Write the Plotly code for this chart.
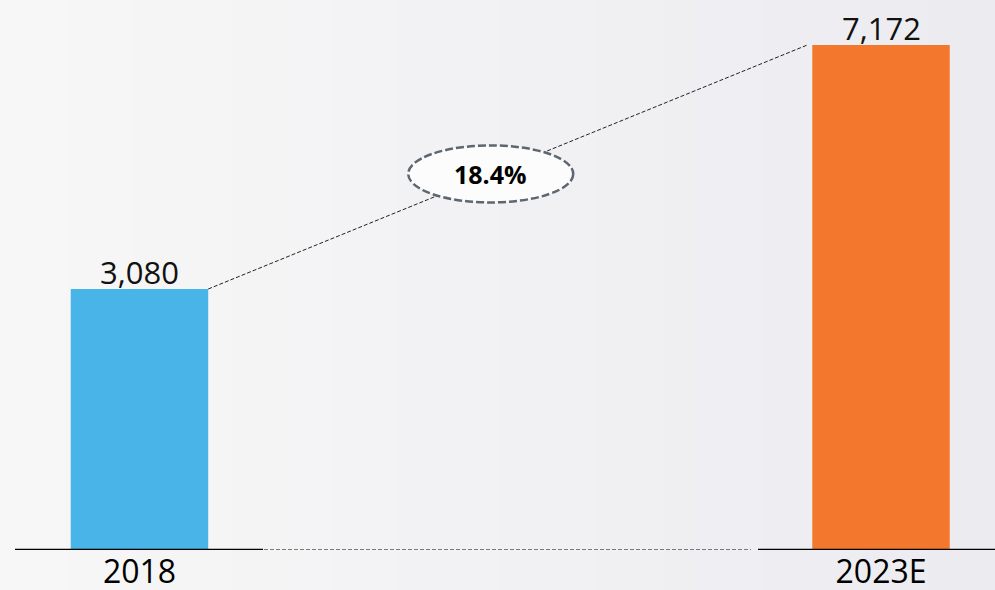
import plotly.graph_objects as go

# ---- data ----
categories = ["2018", "2023E"]
values = [3080, 7172]
value_labels = ["3,080", "7,172"]
cagr_label = "18.4%"
bar_colors = ["#49B4E8", "#F3782E"]

# ---- layout constants (styling / axis frame) ----
Y_FLOOR = -1297
Y_TOP = 7927
X_RANGE = [-0.1881, 1.1537]
BAR_W = 0.1854
FONT = "Open Sans"

fig = go.Figure()
fig.add_trace(go.Bar(
    x=list(range(len(categories))),
    y=[v - Y_FLOOR for v in values],
    base=[Y_FLOOR] * len(values),
    width=BAR_W,
    marker=dict(color=bar_colors, line=dict(width=0)),
    cliponaxis=False,
    hovertemplate="%{customdata}<extra></extra>",
    customdata=value_labels,
))

shapes = []
# background gradient strips
n = 30
c0 = (247, 247, 247)
c1 = (236, 235, 240)
for i in range(n):
    t = i / (n - 1)
    c = tuple(round(c0[j] + (c1[j] - c0[j]) * t) for j in range(3))
    shapes.append(dict(type="rect", xref="paper", yref="paper",
                       x0=i / n, x1=(i + 1) / n + 0.002, y0=-0.2, y1=1.05,
                       fillcolor="rgb(%d,%d,%d)" % c, line=dict(width=0), layer="below"))

# baseline segments
shapes.append(dict(type="line", xref="paper", yref="y", x0=15/995, x1=263/995,
                   y0=Y_FLOOR, y1=Y_FLOOR, line=dict(color="#000000", width=2.5)))
shapes.append(dict(type="line", xref="paper", yref="y", x0=264/995, x1=751/995,
                   y0=Y_FLOOR, y1=Y_FLOOR, line=dict(color="#7A7A7A", width=2, dash="4px,2px")))
shapes.append(dict(type="line", xref="paper", yref="y", x0=758/995, x1=1,
                   y0=Y_FLOOR, y1=Y_FLOOR, line=dict(color="#000000", width=2.5)))

# connector line from top of first bar to top of second bar
lx0 = 0 + BAR_W / 2
ly0 = values[0]
lx1 = 1 - BAR_W / 2 - 5 / 741.5
ly1 = values[1]
shapes.append(dict(type="line", xref="x", yref="y", x0=lx0, y0=ly0, x1=lx1, y1=ly1,
                   line=dict(color="#222222", width=1, dash="4px,2px")))

# ellipse with CAGR
t = 0.4716
cx = lx0 + (lx1 - lx0) * t
cy = ly0 + (ly1 - ly0) * t
rx = 82.5 / 741.5
ry = 28.5 / (550 / (Y_TOP - Y_FLOOR))
shapes.append(dict(type="circle", xref="x", yref="y", x0=cx - rx, x1=cx + rx,
                   y0=cy - ry, y1=cy + ry, fillcolor="rgba(252,252,252,1)",
                   line=dict(color="#5E6670", width=2.5, dash="8px,3px")))

annotations = [dict(x=cx, y=cy, xref="x", yref="y", text="<b>%s</b>" % cagr_label,
                    showarrow=False, font=dict(family=FONT, size=25, color="#000000"))]
for i, (v, lab) in enumerate(zip(values, value_labels)):
    annotations.append(dict(x=i, y=v, xref="x", yref="y", text=lab, showarrow=False,
                            yanchor="bottom", xanchor="center", yshift=-6,
                            font=dict(family=FONT, size=31, color="#111111")))

fig.update_layout(
    width=995, height=590,
    margin=dict(l=0, r=0, t=0, b=40),
    paper_bgcolor="#F2F2F3",
    plot_bgcolor="rgba(0,0,0,0)",
    showlegend=False,
    shapes=shapes,
    annotations=annotations,
    xaxis=dict(range=X_RANGE, tickmode="array", tickvals=list(range(len(categories))),
               ticktext=categories, showgrid=False, zeroline=False, showline=False,
               automargin=False, ticks="",
               tickfont=dict(family=FONT, size=32, color="#000000")),
    yaxis=dict(range=[Y_FLOOR, Y_TOP], visible=False, showgrid=False, zeroline=False,
               automargin=False),
    font=dict(family=FONT),
)

fig.write_html("out.html", config={"displayModeBar": False},
               post_script="document.body.style.margin='0';")
